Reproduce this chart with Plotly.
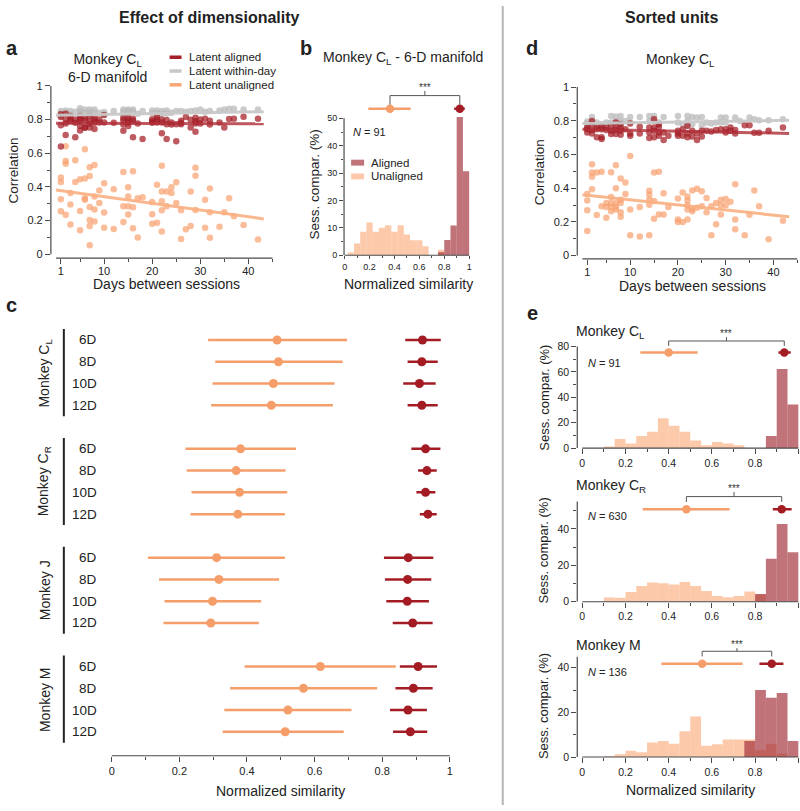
import plotly.graph_objects as go

W, H = 800, 811
FONT = "Liberation Sans, Arial, Helvetica, sans-serif"
TXT = "#222222"
AXC = "#4a4a4a"

RED = "rgb(163,28,36)"
RED_PT = "rgba(163,28,36,0.72)"
ORG = "rgb(245,158,106)"
ORG_PT = "rgba(248,160,110,0.7)"
GRY_PT = "rgba(185,185,185,0.75)"
RED_FIT = "rgba(175,45,55,0.8)"
ORG_FIT = "rgba(250,175,130,0.9)"
GRY_FIT = "rgba(200,200,200,0.95)"
HIST_RED = "rgba(160,40,50,0.65)"
HIST_ORG = "rgba(250,165,115,0.6)"

# ---------------- Panel a (Monkey C_L, 6-D manifold) ----------------
a_unal_days = [1,1,1,1, 2,2,2,2, 3,3,3, 4,4, 5,5,5, 6,6,6,6, 7,7,7,7,7,7, 8,8,8,8, 9,9,
               10,10,10, 12,12, 14,14,14, 15,15,15,15, 16,16,16, 17,17, 18, 20,20,20, 21,21,
               22,22,22,22,22, 23,23, 24,24, 25,25, 26,26, 27, 28,28, 29,29,29, 31,31,
               32,32,32, 34, 35, 36, 37, 39, 42]
a_unal_corr = [0.456,0.429,0.326,0.256, 0.641,0.554,0.538,0.234, 0.363,0.296,0.176, 0.558,0.429,
               0.445,0.257,0.142, 0.624,0.450,0.333,0.324, 0.517,0.464,0.281,0.203,0.168,0.053,
               0.530,0.343,0.265,0.195, 0.378,0.304,
               0.421,0.248,0.158, 0.386,0.150, 0.489,0.285,0.191, 0.398,0.343,0.285,0.236,
               0.493,0.279,0.154, 0.333,0.100, 0.339, 0.310,0.238,0.181, 0.413,0.187,
               0.525,0.372,0.314,0.261,0.135, 0.372,0.285, 0.398,0.363, 0.427,0.304, 0.261,0.090,
               0.148, 0.372,0.168, 0.513,0.466,0.263, 0.324,0.158,
               0.390,0.250,0.098, 0.164, 0.250, 0.332, 0.226, 0.174, 0.088]

a_al_days = [1,1,1,1, 2,2,2,2, 3,3,3, 4,4,4, 5,5,5,5,5, 6,6,6,6, 7,7,7,7, 8,8,8,8, 9,9, 10,10,
             12, 14,14,14,14, 15,15,15,15, 16,16,16, 17, 18, 20,20,20, 21,21,21, 22,22,22,
             23,23,23, 24,24, 25,25, 26,26,26, 27, 28,28, 29,29,29,29, 30,30, 31, 32,32,
             34, 35, 36, 37, 39, 42]
a_al_corr = [0.831,0.766,0.640,0.815, 0.834,0.776,0.708,0.800, 0.821,0.792,0.805, 0.694,0.800,0.780,
             0.821,0.803,0.792,0.762,0.735, 0.811,0.795,0.753,0.751, 0.819,0.788,0.753,0.775,
             0.811,0.795,0.743,0.780, 0.782,0.800, 0.827,0.782,
             0.780, 0.795,0.733,0.810,0.770, 0.811,0.795,0.762,0.780, 0.805,0.792,0.694, 0.776, 0.684,
             0.801,0.788,0.780, 0.815,0.782,0.800, 0.782,0.718,0.800,
             0.797,0.772,0.684, 0.782,0.770, 0.772,0.671, 0.792,0.772,0.780, 0.815, 0.799,0.753,
             0.811,0.776,0.727,0.790, 0.776,0.800, 0.805, 0.792,0.770,
             0.782, 0.753, 0.803, 0.805, 0.817, 0.805]

a_wd_days = [1,1,1, 2,2, 3,3, 4, 5,5,5, 6,6, 7,7,7, 8,8, 9, 10,10, 12, 14,14,14, 15,15,15,
             16,16, 17, 18, 20,20, 21,21, 22,22, 23,23, 24, 25, 26, 27, 28, 29, 30, 31, 32,
             34, 35, 36, 37, 39, 42]
a_wd_corr = [0.850,0.821,0.835, 0.854,0.840, 0.850,0.830, 0.846, 0.866,0.850,0.835, 0.860,0.840,
             0.860,0.846,0.830, 0.860,0.840, 0.840, 0.844,0.830, 0.850, 0.860,0.846,0.832,
             0.860,0.850,0.831, 0.860,0.846, 0.834, 0.850, 0.854,0.838, 0.854,0.838, 0.850,0.834,
             0.854,0.836, 0.840, 0.850, 0.850, 0.846, 0.850, 0.854, 0.860, 0.846, 0.850,
             0.854, 0.860, 0.864, 0.864, 0.860, 0.860]

fit_days = [0, 43.2]
a_fit_al = [0.777, 0.775]
a_fit_wd = [0.825, 0.846]
a_fit_unal = [0.382, 0.210]

# ---------------- Panel b (histogram, Monkey C_L 6-D) ----------------
b_unal_left = [0.025, 0.075, 0.125, 0.175, 0.225, 0.275, 0.325, 0.375, 0.425, 0.475, 0.525,
               0.575, 0.625, 0.75]
b_unal_pct = [1.0, 4.3, 8.6, 12.0, 8.6, 10.0, 11.0, 8.6, 11.0, 7.6, 5.5, 5.5, 3.3, 2.0]
b_al_left = [0.75, 0.80, 0.85, 0.90, 0.95]
b_al_pct = [1.1, 5.6, 10.9, 50.5, 30.7]
b_summary = {"unal": (0.364, 0.19, 0.53), "al": (0.925, 0.88, 0.965)}

# ---------------- Panel c (dimensionality) ----------------
c_monkeys = ["Monkey C<sub>L</sub>", "Monkey C<sub>R</sub>", "Monkey J", "Monkey M"]
c_dims = ["6D", "8D", "10D", "12D"]
c_unal_mean = [0.489, 0.493, 0.478, 0.472, 0.381, 0.368, 0.378, 0.373,
               0.310, 0.317, 0.298, 0.293, 0.617, 0.567, 0.521, 0.513]
c_unal_lo = [0.285, 0.306, 0.298, 0.294, 0.218, 0.222, 0.236, 0.233,
             0.107, 0.140, 0.156, 0.153, 0.393, 0.350, 0.333, 0.328]
c_unal_hi = [0.696, 0.683, 0.659, 0.654, 0.545, 0.514, 0.519, 0.512,
             0.512, 0.495, 0.442, 0.435, 0.840, 0.785, 0.709, 0.686]
c_al_mean = [0.919, 0.917, 0.910, 0.917, 0.928, 0.932, 0.928, 0.935,
             0.877, 0.875, 0.874, 0.890, 0.906, 0.892, 0.876, 0.883]
c_al_lo = [0.868, 0.875, 0.862, 0.875, 0.886, 0.906, 0.901, 0.911,
           0.805, 0.808, 0.812, 0.831, 0.852, 0.839, 0.823, 0.832]
c_al_hi = [0.973, 0.964, 0.958, 0.964, 0.972, 0.961, 0.957, 0.961,
           0.951, 0.945, 0.938, 0.949, 0.962, 0.949, 0.932, 0.933]

# ---------------- Panel d (sorted units, Monkey C_L) ----------------
d_unal_days = [1,1,1,1, 2,2,2,2, 3,3, 4,4, 5,5,5, 6,6,6,6,6, 7,7,7,7,7, 8,8,8,8,8, 9,9,
               10,10,10, 12,12, 14,14,14,14,14, 15,15,15, 16,16, 17,17, 18, 20,20,20, 21,21,
               22,22,22,22,22, 23,23,23, 24,24, 25,25, 26,26, 27,27, 28,28, 29,29,29, 30,30, 31,
               32,32,32, 34, 35, 36, 37, 39, 42]
d_unal_corr = [0.365,0.326,0.269,0.146, 0.542,0.493,0.468,0.394, 0.493,0.240, 0.497,0.292,
               0.312,0.288,0.224, 0.495,0.347,0.312,0.288,0.263, 0.536,0.400,0.312,0.288,0.273,
               0.458,0.331,0.312,0.257,0.230, 0.433,0.366,
               0.591,0.273,0.121, 0.288,0.113, 0.384,0.361,0.331,0.302,0.121, 0.493,0.324,0.218,
               0.497,0.244, 0.370,0.244, 0.288, 0.339,0.214,0.199, 0.374,0.199,
               0.351,0.326,0.298,0.273,0.214, 0.386,0.277,0.263, 0.396,0.283, 0.382,0.292,
               0.341,0.257, 0.292,0.121, 0.312,0.185, 0.331,0.298,0.244, 0.335,0.298, 0.320,
               0.423,0.214,0.156, 0.121, 0.242, 0.386, 0.292, 0.097, 0.207]

d_al_days = [1,1,1, 2,2,2,2, 3,3,3, 4,4,4,4, 5,5, 6,6,6, 7,7,7,7, 8,8,8,8, 9, 10,10,10,
             12,12, 14,14,14, 15,15,15,15, 16,16,16,16, 17,17, 18, 20,20,20, 21,21, 22,22,22,
             23,23, 24,24, 25,25, 26, 27, 28, 29, 30,30, 31,31, 32,32, 34, 35, 36, 37, 39, 42]
d_al_corr = [0.760,0.750,0.731, 0.799,0.780,0.745,0.725, 0.760,0.750,0.702, 0.764,0.750,0.702,0.692,
             0.760,0.745, 0.770,0.741,0.721, 0.789,0.760,0.745,0.721, 0.780,0.756,0.741,0.717,
             0.750, 0.784,0.725,0.711,
             0.764,0.725, 0.760,0.731,0.698, 0.809,0.760,0.741,0.702, 0.780,0.760,0.731,0.711,
             0.731,0.686, 0.711, 0.741,0.725,0.711, 0.750,0.711, 0.770,0.725,0.702,
             0.741,0.706, 0.725,0.686, 0.741,0.706, 0.741, 0.737, 0.745, 0.750, 0.750,0.731,
             0.760,0.741, 0.745,0.725, 0.774, 0.774, 0.729, 0.729, 0.741, 0.760]

d_wd_days = [1,1,1, 2,2, 3, 4, 5, 6,6, 7,7, 8,8,8, 9, 10,10, 12, 14,14, 15,15, 16, 17,
             20,20, 21, 22,22,22, 23,23, 24, 25,25, 26, 27, 28, 29,29, 30,30, 32, 33, 35, 36,
             37, 39, 42]
d_wd_corr = [0.795,0.784,0.764, 0.823,0.799, 0.789, 0.780, 0.789, 0.828,0.789, 0.825,0.799,
             0.828,0.799,0.784, 0.799, 0.823,0.789, 0.823, 0.828,0.799, 0.828,0.799, 0.789, 0.823,
             0.828,0.789, 0.780, 0.828,0.799,0.770, 0.823,0.780, 0.819, 0.823,0.770, 0.789,
             0.784, 0.789, 0.819,0.789, 0.819,0.789, 0.819, 0.799, 0.819, 0.809,
             0.803, 0.803, 0.809]

d_fit_x = [0, 43.3]
d_fit_al = [0.750, 0.725]
d_fit_wd = [0.784, 0.803]
d_fit_unal = [0.361, 0.230]

# ---------------- Panel e (sorted units histograms) ----------------
e_names = ["Monkey C<sub>L</sub>", "Monkey C<sub>R</sub>", "Monkey M"]
e_n = [91, 630, 136]
e1_unal_left = [0.10, 0.15, 0.20, 0.25, 0.30, 0.35, 0.40, 0.45, 0.50, 0.55, 0.60, 0.65, 0.70]
e1_unal_pct = [1.3, 7.2, 3.6, 9.6, 12.9, 23.6, 17.6, 12.9, 6.0, 2.3, 4.7, 3.6, 2.3]
e1_al_left = [0.85, 0.90, 0.95]
e1_al_pct = [9.6, 62.4, 34.4]
e2_unal_left = [0.10, 0.15, 0.20, 0.25, 0.30, 0.35, 0.40, 0.45, 0.50, 0.55, 0.60, 0.65, 0.70,
                0.75, 0.80]
e2_unal_pct = [2.3, 2.2, 5.4, 8.6, 10.6, 10.1, 9.5, 10.8, 8.6, 5.9, 3.1, 2.5, 3.2, 5.6, 4.0]
e2_al_left = [0.80, 0.85, 0.90, 0.95]
e2_al_pct = [4.2, 23.6, 42.7, 27.2]
e3_unal_left = [0.10, 0.15, 0.20, 0.25, 0.30, 0.35, 0.40, 0.45, 0.50, 0.55, 0.60, 0.65, 0.70,
                0.75, 0.80, 0.85, 0.90]
e3_unal_pct = [0.4, 1.2, 2.8, 2.1, 6.5, 7.2, 5.9, 11.6, 18.2, 5.0, 5.7, 7.9, 7.9, 7.9, 3.0, 5.9, 1.6]
e3_al_left = [0.75, 0.80, 0.85, 0.90, 0.95]
e3_al_pct = [7.2, 30.1, 26.6, 28.7, 7.2]
e_unal_summary = [(0.40, 0.269, 0.534), (0.482, 0.28, 0.682), (0.555, 0.366, 0.742)]
e_al_summary = [(0.935, 0.908, 0.965), (0.923, 0.882, 0.969), (0.877, 0.82, 0.931)]

BIN_W = 0.05


def fx(px):
    return px / W


def fy(py):
    return 1 - py / H


fig = go.Figure()


def pts(x, y, color, xa, ya, size=6.5):
    fig.add_trace(go.Scatter(x=x, y=y, mode="markers", xaxis=xa, yaxis=ya, hoverinfo="skip",
                             marker=dict(size=size, color=color, line=dict(width=0))))


def fit(x, y, color, xa, ya):
    fig.add_trace(go.Scatter(x=x, y=y, mode="lines", xaxis=xa, yaxis=ya, hoverinfo="skip",
                             line=dict(color=color, width=3)))


def bars(left, h, color, xa, ya):
    fig.add_trace(go.Bar(x=[l + BIN_W / 2 for l in left], y=h, width=BIN_W, xaxis=xa, yaxis=ya,
                         marker=dict(color=color, line=dict(width=0)), hoverinfo="skip"))


def summary(m, lo, hi, y, color, xa, ya, size=8.5):
    fig.add_trace(go.Scatter(x=[m], y=[y], mode="markers", xaxis=xa, yaxis=ya, hoverinfo="skip",
                             marker=dict(size=size, color=color, line=dict(width=0)),
                             error_x=dict(type="data", symmetric=False, array=[hi - m],
                                          arrayminus=[m - lo], thickness=2.5, width=0,
                                          color=color)))


annotations = []
shapes = []


def bracket(x0, x1, y_leg, y_top, y_tick, y_star, xa, ya):
    mid = (x0 + x1) / 2
    fig.add_trace(go.Scatter(x=[x0, x0, x1, x1, None, mid, mid],
                             y=[y_leg, y_top, y_top, y_leg, None, y_top, y_tick],
                             mode="lines", xaxis=xa, yaxis=ya, hoverinfo="skip",
                             line=dict(color="#555555", width=1)))
    annotations.append(dict(text="***", x=mid, y=y_star, xref=xa, yref=ya, showarrow=False,
                            font=dict(size=10, color="#333333", family=FONT), yshift=-3))


# ---- panel a traces
pts(a_wd_days, a_wd_corr, GRY_PT, "x", "y")
pts(a_unal_days, a_unal_corr, ORG_PT, "x", "y")
pts(a_al_days, a_al_corr, RED_PT, "x", "y")
fit(fit_days, a_fit_wd, GRY_FIT, "x", "y")
fit(fit_days, a_fit_al, RED_FIT, "x", "y")
fit(fit_days, a_fit_unal, ORG_FIT, "x", "y")

# ---- panel b traces
bars(b_unal_left, b_unal_pct, HIST_ORG, "x2", "y2")
bars(b_al_left, b_al_pct, HIST_RED, "x2", "y2")
summary(*b_summary["unal"], 53.5, ORG, "x2", "y2")
summary(*b_summary["al"], 53.5, RED, "x2", "y2")
bracket(b_summary["unal"][0], b_summary["al"][0], 55.0, 58.3, 60.0, 62.5, "x2", "y2")

# ---- panel c traces
GROUP_STRIDE = 5
c_pos = [g * GROUP_STRIDE + r for g in range(len(c_monkeys)) for r in range(len(c_dims))]
fig.add_trace(go.Scatter(x=c_unal_mean, y=c_pos, mode="markers", xaxis="x3", yaxis="y3",
                         hoverinfo="skip", marker=dict(size=9, color=ORG, line=dict(width=0)),
                         error_x=dict(type="data", symmetric=False,
                                      array=[h - m for h, m in zip(c_unal_hi, c_unal_mean)],
                                      arrayminus=[m - l for l, m in zip(c_unal_lo, c_unal_mean)],
                                      thickness=2.5, width=0, color=ORG)))
fig.add_trace(go.Scatter(x=c_al_mean, y=c_pos, mode="markers", xaxis="x3", yaxis="y3",
                         hoverinfo="skip", marker=dict(size=9, color=RED, line=dict(width=0)),
                         error_x=dict(type="data", symmetric=False,
                                      array=[h - m for h, m in zip(c_al_hi, c_al_mean)],
                                      arrayminus=[m - l for l, m in zip(c_al_lo, c_al_mean)],
                                      thickness=2.5, width=0, color=RED)))

# ---- panel d traces
pts(d_wd_days, d_wd_corr, GRY_PT, "x4", "y4")
pts(d_unal_days, d_unal_corr, ORG_PT, "x4", "y4")
pts(d_al_days, d_al_corr, RED_PT, "x4", "y4")
fit(d_fit_x, d_fit_wd, GRY_FIT, "x4", "y4")
fit(d_fit_x, d_fit_al, RED_FIT, "x4", "y4")
fit(d_fit_x, d_fit_unal, ORG_FIT, "x4", "y4")

# ---- panel e traces
e_hists = [(e1_unal_left, e1_unal_pct, e1_al_left, e1_al_pct),
           (e2_unal_left, e2_unal_pct, e2_al_left, e2_al_pct),
           (e3_unal_left, e3_unal_pct, e3_al_left, e3_al_pct)]
e_levels = [(75.3, 80.5, 84.4, 87.5, 92.7), (50.8, 54.8, 57.7, 60.2, 63.8),
            (41.8, 45.1, 47.4, 48.8, 51.8)]
for i, (ul, uh, al, ah) in enumerate(e_hists):
    xa, ya = "x%d" % (5 + i), "y%d" % (5 + i)
    bars(ul, uh, HIST_ORG, xa, ya)
    bars(al, ah, HIST_RED, xa, ya)
    ym, yl, yt, ytk, ys = e_levels[i]
    summary(*e_unal_summary[i], ym, ORG, xa, ya)
    summary(*e_al_summary[i], ym, RED, xa, ya)
    bracket(e_unal_summary[i][0], e_al_summary[i][0], yl, yt, ytk, ys, xa, ya)


# ---------------- axes ----------------
def axis(domain, rng, anchor, tickvals=None, ticktext=None, minor=None, size=11, visible=True,
         ticklen=5, standoff=0):
    d = dict(domain=domain, range=rng, anchor=anchor, showline=False, zeroline=False,
             showgrid=False, fixedrange=True, autorange=False)
    if not visible or tickvals is None:
        d.update(showticklabels=False, ticks="")
        return d
    d.update(ticks="outside", ticklen=ticklen, tickwidth=1, tickcolor=AXC, tickmode="array",
             tickvals=tickvals, tickfont=dict(family=FONT, size=size, color=TXT),
             ticklabelstandoff=standoff)
    if ticktext is not None:
        d["ticktext"] = ticktext
    if minor is not None:
        d["minor"] = dict(tickmode="array", tickvals=minor, ticks="outside",
                          ticklen=max(2, ticklen - 2), tickwidth=1, tickcolor=AXC)
    return d


day_ticks = [1, 10, 20, 30, 40]
day_minor = [5, 15, 25, 35, 45]
corr_ticks = [0, 0.2, 0.4, 0.6, 0.8, 1]
corr_text = ["0", "0.2", "0.4", "0.6", "0.8", "1"]
corr_minor = [0.1, 0.3, 0.5, 0.7, 0.9]
sim_ticks = [0, 0.2, 0.4, 0.6, 0.8, 1]
sim_text = ["0", "0.2", "0.4", "0.6", "0.8", "1"]
sim_minor = [0.1, 0.3, 0.5, 0.7, 0.9]

E_X = [fx(576.7), fx(799.4)]
E_XR = [-0.023, 1.005]

layout_axes = dict(
    xaxis=axis([fx(49), fx(272)], [-1.075, 45.19], "y", day_ticks, [str(t) for t in day_ticks],
               day_minor, standoff=-2),
    yaxis=axis([fy(256), fy(81)], [-0.0234, 1.0], "x", corr_ticks, corr_text, corr_minor),
    xaxis2=axis([fx(342.9), fx(470.8)], [-0.005, 1.02], "y2", sim_ticks, sim_text, sim_minor,
                size=9, ticklen=3),
    yaxis2=axis([fy(253), fy(75.1)], [0, 64], "x2", [0, 10, 20, 30, 40, 50],
                ["0", "10", "20", "30", "40", "50"], [5, 15, 25, 35, 45], size=9, ticklen=4),
    xaxis3=axis([fx(106.6), fx(452.4)], [-0.01, 1.01], "y3", sim_ticks, sim_text, sim_minor, size=11),
    yaxis3=axis([fy(761), fy(312.5)], [19.1, -1.2], "x3", visible=False),
    xaxis4=axis([fx(576.7), fx(798.5)], [-1.09, 45.26], "y4", day_ticks, [str(t) for t in day_ticks],
                day_minor, standoff=-2),
    yaxis4=axis([fy(256.7), fy(82.3)], [-0.02, 1.0], "x4", corr_ticks, corr_text, corr_minor),
    xaxis5=axis(E_X, E_XR, "y5", sim_ticks, sim_text, sim_minor, size=10.5),
    yaxis5=axis([fy(448.7), fy(325.1)], [0, 96], "x5", [0, 20, 40, 60, 80],
                ["0", "20", "40", "60", "80"], [10, 30, 50, 70], size=10.5),
    xaxis6=axis(E_X, E_XR, "y6", sim_ticks, sim_text, sim_minor, size=10.5),
    yaxis6=axis([fy(604.7), fy(478.9)], [0, 68], "x6", [0, 20, 40], ["0", "20", "40"],
                [10, 30, 50], size=10.5),
    xaxis7=axis(E_X, E_XR, "y7", sim_ticks, sim_text, sim_minor, size=10.5),
    yaxis7=axis([fy(762.3), fy(635.5)], [0, 56], "x7", [0, 20, 40], ["0", "20", "40"],
                [10, 30], size=10.5),
)


def line(xref, yref, x0, y0, x1, y1, color=AXC, width=1.2):
    shapes.append(dict(type="line", xref=xref, yref=yref, x0=x0, y0=y0, x1=x1, y1=y1,
                       line=dict(color=color, width=width)))


# axis lines (offset style)
line("x domain", "y", 0, 0, 0, 1)
line("x", "y domain", 0, 0, 45, 0)
line("x2 domain", "y2", 0, 0, 0, 50)
line("x2", "y2 domain", 0, 0, 1, 0)
line("x3", "y3 domain", 0, 0, 1, 0)
line("x4 domain", "y4", 0, 0, 0, 1)
line("x4", "y4 domain", 0, 0, 45, 0)
for i, top in enumerate([80, 55, 45]):
    line("x%d domain" % (5 + i), "y%d" % (5 + i), 0, 0, 0, top)
    line("x%d" % (5 + i), "y%d domain" % (5 + i), 0, 0, 1, 0)

# separator
line("paper", "paper", fx(502), 0, fx(502), 1, color="#b4b4b4", width=2)

# panel c group bars
for g in range(len(c_monkeys)):
    p0 = g * GROUP_STRIDE
    line("paper", "y3", fx(62), p0 - 0.5, fx(62), p0 + len(c_dims) - 0.5, color="#222222", width=2)


def text(t, x, y, size=13, bold=False, xanchor="center", yanchor="middle", angle=0,
         xref="paper", yref="paper", color=TXT):
    if bold:
        t = "<b>%s</b>" % t
    annotations.append(dict(text=t, x=x, y=y, xref=xref, yref=yref, xanchor=xanchor,
                            yanchor=yanchor, showarrow=False, textangle=angle,
                            font=dict(size=size, color=color, family=FONT)))


# headers and panel letters
text("Effect of dimensionality", fx(208), fy(12), 16, True)
text("Sorted units", fx(671), fy(12), 16, True)
for lab, x, y in [("a", 2, 43), ("b", 297, 43), ("d", 523, 43), ("c", 2, 303), ("e", 524, 312)]:
    text(lab, fx(x), fy(y), 20, True, xanchor="left")

# panel a texts
text("Monkey C<sub>L</sub><br>6-D manifold", fx(106), fy(63), 14)
for (lab, col), yy in zip([("Latent aligned", "rgb(165,30,40)"),
                           ("Latent within-day", "rgb(200,200,200)"),
                           ("Latent unaligned", "rgb(248,168,120)")], [52, 66, 80]):
    line("paper", "paper", fx(168), fy(yy), fx(180), fy(yy), color=col, width=3.5)
    text(lab, fx(185), fy(yy), 11.5, xanchor="left")
text("Correlation", fx(12), fy(167), 13.5, angle=-90)
text("Days between sessions", fx(165), fy(282), 14)

# panel b texts
text("Monkey C<sub>L</sub> - 6-D manifold", fx(402), fy(53), 14)
shapes.append(dict(type="rect", xref="paper", yref="paper", x0=fx(350), x1=fx(363),
                   y0=fy(162), y1=fy(156), fillcolor=HIST_RED, line=dict(width=0)))
shapes.append(dict(type="rect", xref="paper", yref="paper", x0=fx(350), x1=fx(363),
                   y0=fy(176), y1=fy(170), fillcolor=HIST_ORG, line=dict(width=0)))
text("Aligned", fx(368), fy(159), 11.5, xanchor="left")
text("Unaligned", fx(368), fy(173), 11.5, xanchor="left")
text("<i>N</i> = 91", fx(350), fy(128), 11, xanchor="left")
text("Sess. compar. (%)", fx(313), fy(181), 13.5, angle=-90)
text("Normalized similarity", fx(408), fy(282), 14)

# panel c texts
for g, name in enumerate(c_monkeys):
    p0 = g * GROUP_STRIDE
    text(name, fx(43), p0 + (len(c_dims) - 1) / 2, 14, angle=-90, yref="y3")
    for r, dname in enumerate(c_dims):
        text(dname, fx(97), p0 + r, 13.5, xanchor="right", yref="y3")
text("Normalized similarity", fx(279), fy(797), 14)

# panel d texts
text("Monkey C<sub>L</sub>", fx(680), fy(55), 14)
text("Correlation", fx(539), fy(169), 13.5, angle=-90)
text("Days between sessions", fx(692), fy(284), 14)

# panel e texts
for i, (ty, ny, ay) in enumerate([(331, 362, 398), (487, 518, 553), (649, 676, 711)]):
    text(e_names[i], fx(573), fy(ty), 14, xanchor="left")
    text("<i>N</i> = %d" % e_n[i], fx(585), fy(ny), 11, xanchor="left")
    text("Sess. compar. (%)", fx(543), fy(ay), 13, angle=-90)
text("Normalized similarity", fx(690), fy(796), 14)

fig.update_layout(
    width=W, height=H, margin=dict(l=0, r=0, t=0, b=0),
    paper_bgcolor="white", plot_bgcolor="white",
    showlegend=False, barmode="overlay",
    font=dict(family=FONT, color=TXT),
    annotations=annotations, shapes=shapes,
    **layout_axes,
)

fig.write_html("out.html", config={"displayModeBar": False},
               post_script="document.body.style.margin='0px';"
                           "document.body.style.overflow='hidden';")
